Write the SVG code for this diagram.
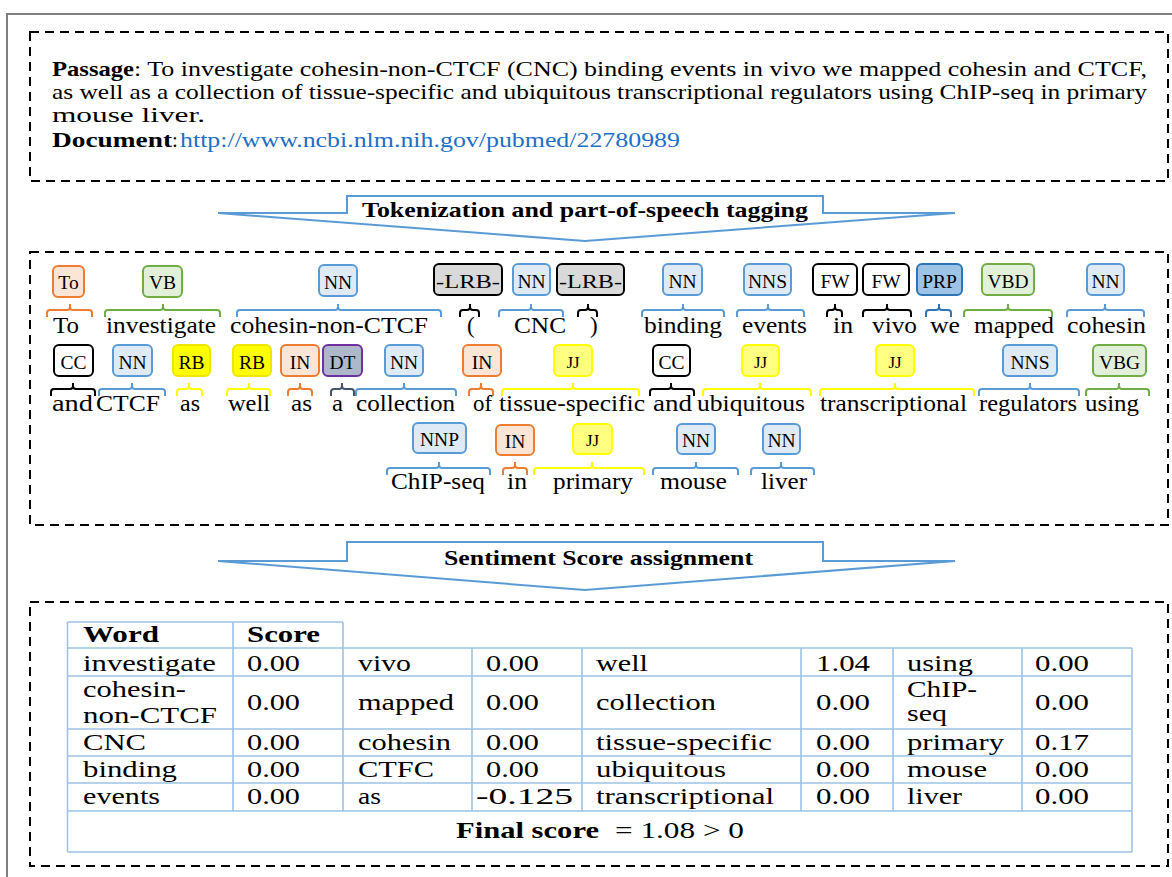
<svg xmlns="http://www.w3.org/2000/svg" width="1172" height="877" viewBox="0 0 1172 877">
<style>
text{font-family:"Liberation Serif","Times New Roman",serif;fill:#000}
.p{font-size:21px}
.pb{font-size:21px;font-weight:bold}
.url{font-size:21px;fill:#1F6FC5}
.lbl{font-size:21px;font-weight:bold;text-anchor:middle}
.w{font-size:23px}
.t{font-size:19.5px;text-anchor:middle}
.tj{font-size:17px;text-anchor:middle}
.tc{font-size:23px}
.tcb{font-size:23px;font-weight:bold}
.dash{fill:none;stroke:#000;stroke-width:2;stroke-dasharray:9 6}
.arrow{fill:#fff;stroke:#5B9BD5;stroke-width:2}
.tag{stroke-width:2}
.or{fill:#FBE5D6;stroke:#ED7D31}
.gr{fill:#E2F0D9;stroke:#70AD47}
.bl{fill:#DEEBF7;stroke:#5B9BD5}
.lrb{fill:#D9D9D9;stroke:#000}
.wh{fill:#fff;stroke:#000}
.prp{fill:#9DC3E6;stroke:#2E75B6}
.rb{fill:#FFFF00;stroke:#EEE600}
.jj{fill:#FFFF80;stroke:#FFFF00}
.dt{fill:#ADB9CA;stroke:#7030A0}
.br{fill:none;stroke-width:2}
.bor{stroke:#ED7D31}.bgr{stroke:#70AD47}.bbl{stroke:#5B9BD5}.bbk{stroke:#000}.bprp{stroke:#2E75B6}.byl{stroke:#FFFF00}.bdt{stroke:#44546A}
.tbl{stroke:#9DC3E6;stroke-width:1.6;fill:none}
</style>

<rect x="7" y="14" width="1190" height="900" fill="none" stroke="#7f7f7f" stroke-width="2"/>

<g id="passage-box">
<rect class="dash" x="30" y="32" width="1138" height="149"/>
<text class="pb" x="52" y="76" textLength="82" lengthAdjust="spacingAndGlyphs">Passage</text>
<text class="p" x="134" y="76" textLength="1013" lengthAdjust="spacingAndGlyphs">: To investigate cohesin-non-CTCF (CNC) binding events in vivo we mapped cohesin and CTCF,</text>
<text class="p" x="52" y="99" textLength="1095" lengthAdjust="spacingAndGlyphs">as well as a collection of tissue-specific and ubiquitous transcriptional regulators using ChIP-seq in primary</text>
<text class="p" x="52" y="122" textLength="153" lengthAdjust="spacingAndGlyphs">mouse liver.</text>
<text class="pb" x="52" y="147" textLength="120" lengthAdjust="spacingAndGlyphs">Document</text>
<text class="p" x="172" y="147">:</text>
<text class="url" x="180" y="147" textLength="500" lengthAdjust="spacingAndGlyphs">http://www.ncbi.nlm.nih.gov/pubmed/22780989</text>
</g>

<g id="arrow-tokenization">
<path class="arrow" d="M218,213 L347,213 L347,196 L823,196 L823,213 L955,213 L585,241 Z"/>
<text class="lbl" x="585" y="217" textLength="446" lengthAdjust="spacingAndGlyphs">Tokenization and part-of-speech tagging</text>
</g>

<g id="pos-box">
<rect class="dash" x="30" y="252" width="1138" height="273"/>
</g>

<g id="connectors">
<path class="br bor" d="M47,317V313Q47,310 50,310H67Q70,310 70,307V304M70,307Q70,310 73,310H89Q92,310 92,313V317"/>
<path class="br bgr" d="M105,317V313Q105,310 108,310H160Q163,310 163,307V304M163,307Q163,310 166,310H217Q220,310 220,313V317"/>
<path class="br bbl" d="M237,317V313Q237,310 240,310H335Q338,310 338,307V304M338,307Q338,310 341,310H438Q441,310 441,313V317"/>
<path class="br bbk" d="M460,317V313Q460,310 463,310H467Q470,310 470,307V304M470,307Q470,310 473,310H476Q479,310 479,313V317"/>
<path class="br bbl" d="M499,317V313Q499,310 502,310H528Q531,310 531,307V304M531,307Q531,310 534,310H560Q563,310 563,313V317"/>
<path class="br bbk" d="M578,317V313Q578,310 581,310H585Q588,310 588,307V304M588,307Q588,310 591,310H594Q597,310 597,313V317"/>
<path class="br bbl" d="M642,317V313Q642,310 645,310H680Q683,310 683,307V304M683,307Q683,310 686,310H721Q724,310 724,313V317"/>
<path class="br bbl" d="M737,317V313Q737,310 740,310H765Q768,310 768,307V304M768,307Q768,310 771,310H801Q804,310 804,313V317"/>
<path class="br bbk" d="M827,317V313Q827,310 830,310H832Q835,310 835,307V304M835,307Q835,310 838,310H839Q842,310 842,313V317"/>
<path class="br bbk" d="M863,317V313Q863,310 866,310H884Q887,310 887,307V304M887,307Q887,310 890,310H908Q911,310 911,313V317"/>
<path class="br bprp" d="M926,317V313Q926,310 929,310H936Q939,310 939,307V304M939,307Q939,310 942,310H948Q951,310 951,313V317"/>
<path class="br bgr" d="M964,317V313Q964,310 967,310H1005Q1008,310 1008,307V304M1008,307Q1008,310 1011,310H1049Q1052,310 1052,313V317"/>
<path class="br bbl" d="M1067,317V313Q1067,310 1070,310H1102Q1105,310 1105,307V304M1105,307Q1105,310 1108,310H1141Q1144,310 1144,313V317"/>
<path class="br bbk" d="M51,396V392Q51,389 54,389H70Q73,389 73,386V383M73,386Q73,389 76,389H92Q95,389 95,392V396"/>
<path class="br bbl" d="M99,396V392Q99,389 102,389H129Q132,389 132,386V383M132,386Q132,389 135,389H162Q165,389 165,392V396"/>
<path class="br byl" d="M177,396V392Q177,389 180,389H186Q189,389 189,386V383M189,386Q189,389 192,389H199Q202,389 202,392V396"/>
<path class="br byl" d="M227,396V392Q227,389 230,389H246Q249,389 249,386V383M249,386Q249,389 252,389H267Q270,389 270,392V396"/>
<path class="br bor" d="M288,396V392Q288,389 291,389H297Q300,389 300,386V383M300,386Q300,389 303,389H309Q312,389 312,392V396"/>
<path class="br bdt" d="M331,396V392Q331,389 334,389H339Q342,389 342,386V383M342,386Q342,389 345,389H351Q354,389 354,392V396"/>
<path class="br bbl" d="M356,396V392Q356,389 359,389H401Q404,389 404,386V383M404,386Q404,389 407,389H453Q456,389 456,392V396"/>
<path class="br bor" d="M469,396V392Q469,389 472,389H478Q481,389 481,386V383M481,386Q481,389 484,389H490Q493,389 493,392V396"/>
<path class="br byl" d="M502,396V392Q502,389 505,389H570Q573,389 573,386V383M573,386Q573,389 576,389H636Q639,389 639,392V396"/>
<path class="br bbk" d="M650,396V392Q650,389 653,389H668Q671,389 671,386V383M671,386Q671,389 674,389H691Q694,389 694,392V396"/>
<path class="br byl" d="M703,396V392Q703,389 706,389H757Q760,389 760,386V383M760,386Q760,389 763,389H808Q811,389 811,392V396"/>
<path class="br byl" d="M820,396V392Q820,389 823,389H892Q895,389 895,386V383M895,386Q895,389 898,389H971Q974,389 974,392V396"/>
<path class="br bbl" d="M979,396V392Q979,389 982,389H1027Q1030,389 1030,386V383M1030,386Q1030,389 1033,389H1076Q1079,389 1079,392V396"/>
<path class="br bgr" d="M1086,396V392Q1086,389 1089,389H1116Q1119,389 1119,386V383M1119,386Q1119,389 1122,389H1146Q1149,389 1149,392V396"/>
<path class="br bbl" d="M387,475V471Q387,468 390,468H436Q439,468 439,465V462M439,465Q439,468 442,468H487Q490,468 490,471V475"/>
<path class="br bor" d="M503,475V471Q503,468 506,468H512Q515,468 515,465V462M515,465Q515,468 518,468H524Q527,468 527,471V475"/>
<path class="br byl" d="M534,475V471Q534,468 537,468H589Q592,468 592,465V462M592,465Q592,468 595,468H641Q644,468 644,471V475"/>
<path class="br bbl" d="M653,475V471Q653,468 656,468H693Q696,468 696,465V462M696,465Q696,468 699,468H735Q738,468 738,471V475"/>
<path class="br bbl" d="M751,475V471Q751,468 754,468H778Q781,468 781,465V462M781,465Q781,468 784,468H811Q814,468 814,471V475"/>
</g>

<g id="tok-1"><rect class="tag or" x="53" y="266" width="31" height="31" rx="5"/><text class="t" x="68.5" y="289">To</text><text class="w" x="53" y="333" textLength="26" lengthAdjust="spacingAndGlyphs">To</text></g>
<g id="tok-2"><rect class="tag gr" x="143" y="266" width="39" height="31" rx="5"/><text class="t" x="162.5" y="289">VB</text><text class="w" x="106" y="333" textLength="110" lengthAdjust="spacingAndGlyphs">investigate</text></g>
<g id="tok-3"><rect class="tag bl" x="319" y="265" width="38" height="31" rx="5"/><text class="t" x="338" y="289">NN</text><text class="w" x="230" y="333" textLength="198" lengthAdjust="spacingAndGlyphs">cohesin-non-CTCF</text></g>
<g id="tok-4"><rect class="tag lrb" x="434" y="264" width="68" height="31" rx="5"/><text class="t" x="468" y="288" textLength="64" lengthAdjust="spacingAndGlyphs">-LRB-</text><text class="w" x="467" y="333">(</text></g>
<g id="tok-5"><rect class="tag bl" x="513" y="264" width="37" height="31" rx="5"/><text class="t" x="531.5" y="288">NN</text><text class="w" x="514" y="333" textLength="52" lengthAdjust="spacingAndGlyphs">CNC</text></g>
<g id="tok-6"><rect class="tag lrb" x="557" y="264" width="67" height="31" rx="5"/><text class="t" x="590.5" y="288" textLength="63" lengthAdjust="spacingAndGlyphs">-LRB-</text><text class="w" x="590" y="333">)</text></g>
<g id="tok-7"><rect class="tag bl" x="663" y="264" width="39" height="31" rx="5"/><text class="t" x="682.5" y="288">NN</text><text class="w" x="644" y="333" textLength="78" lengthAdjust="spacingAndGlyphs">binding</text></g>
<g id="tok-8"><rect class="tag bl" x="744" y="264" width="47" height="31" rx="5"/><text class="t" x="767.5" y="288">NNS</text><text class="w" x="742" y="333" textLength="65" lengthAdjust="spacingAndGlyphs">events</text></g>
<g id="tok-9"><rect class="tag wh" x="813" y="264" width="44" height="31" rx="5"/><text class="t" x="835" y="288">FW</text><text class="w" x="833" y="333" textLength="20" lengthAdjust="spacingAndGlyphs">in</text></g>
<g id="tok-10"><rect class="tag wh" x="863" y="264" width="46" height="31" rx="5"/><text class="t" x="886" y="288">FW</text><text class="w" x="872" y="333" textLength="45" lengthAdjust="spacingAndGlyphs">vivo</text></g>
<g id="tok-11"><rect class="tag prp" x="917" y="264" width="45" height="31" rx="5"/><text class="t" x="939.5" y="288">PRP</text><text class="w" x="930" y="333" textLength="30" lengthAdjust="spacingAndGlyphs">we</text></g>
<g id="tok-12"><rect class="tag gr" x="982" y="264" width="52" height="31" rx="5"/><text class="t" x="1008" y="288">VBD</text><text class="w" x="974" y="333" textLength="80" lengthAdjust="spacingAndGlyphs">mapped</text></g>
<g id="tok-13"><rect class="tag bl" x="1087" y="264" width="37" height="31" rx="5"/><text class="t" x="1105.5" y="288">NN</text><text class="w" x="1067" y="333" textLength="79" lengthAdjust="spacingAndGlyphs">cohesin</text></g>

<g id="tok-14"><rect class="tag wh" x="54" y="345" width="39" height="31" rx="5"/><text class="t" x="73.5" y="369">CC</text><text class="w" x="52" y="411" textLength="41" lengthAdjust="spacingAndGlyphs">and</text></g>
<g id="tok-15"><rect class="tag bl" x="113" y="345" width="39" height="31" rx="5"/><text class="t" x="132.5" y="369">NN</text><text class="w" x="96" y="411" textLength="64" lengthAdjust="spacingAndGlyphs">CTCF</text></g>
<g id="tok-16"><rect class="tag rb" x="173" y="345" width="37" height="31" rx="5"/><text class="t" x="191.5" y="369">RB</text><text class="w" x="180" y="411" textLength="20" lengthAdjust="spacingAndGlyphs">as</text></g>
<g id="tok-17"><rect class="tag rb" x="233" y="345" width="38" height="31" rx="5"/><text class="t" x="252" y="369">RB</text><text class="w" x="228" y="411" textLength="42" lengthAdjust="spacingAndGlyphs">well</text></g>
<g id="tok-18"><rect class="tag or" x="281" y="345" width="38" height="31" rx="5"/><text class="t" x="300" y="369">IN</text><text class="w" x="291" y="411" textLength="21" lengthAdjust="spacingAndGlyphs">as</text></g>
<g id="tok-19"><rect class="tag dt" x="323" y="345" width="39" height="31" rx="5"/><text class="t" x="342.5" y="369">DT</text><text class="w" x="332" y="411" textLength="11" lengthAdjust="spacingAndGlyphs">a</text></g>
<g id="tok-20"><rect class="tag bl" x="385" y="345" width="38" height="31" rx="5"/><text class="t" x="404" y="369">NN</text><text class="w" x="356" y="411" textLength="99" lengthAdjust="spacingAndGlyphs">collection</text></g>
<g id="tok-21"><rect class="tag or" x="463" y="345" width="38" height="31" rx="5"/><text class="t" x="482" y="369">IN</text><text class="w" x="473" y="411" textLength="19" lengthAdjust="spacingAndGlyphs">of</text></g>
<g id="tok-22"><rect class="tag jj" x="554" y="345" width="38" height="31" rx="5"/><text class="tj" x="573" y="368">JJ</text><text class="w" x="499" y="411" textLength="146" lengthAdjust="spacingAndGlyphs">tissue-specific</text></g>
<g id="tok-23"><rect class="tag wh" x="653" y="345" width="37" height="31" rx="5"/><text class="t" x="671.5" y="369">CC</text><text class="w" x="653" y="411" textLength="39" lengthAdjust="spacingAndGlyphs">and</text></g>
<g id="tok-24"><rect class="tag jj" x="742" y="345" width="37" height="31" rx="5"/><text class="tj" x="760.5" y="368">JJ</text><text class="w" x="697" y="411" textLength="108" lengthAdjust="spacingAndGlyphs">ubiquitous</text></g>
<g id="tok-25"><rect class="tag jj" x="876" y="345" width="38" height="31" rx="5"/><text class="tj" x="895" y="368">JJ</text><text class="w" x="820" y="411" textLength="147" lengthAdjust="spacingAndGlyphs">transcriptional</text></g>
<g id="tok-26"><rect class="tag bl" x="1003" y="345" width="54" height="31" rx="5"/><text class="t" x="1030" y="369">NNS</text><text class="w" x="979" y="411" textLength="98" lengthAdjust="spacingAndGlyphs">regulators</text></g>
<g id="tok-27"><rect class="tag gr" x="1093" y="345" width="53" height="31" rx="5"/><text class="t" x="1119.5" y="369">VBG</text><text class="w" x="1085" y="411" textLength="54" lengthAdjust="spacingAndGlyphs">using</text></g>

<g id="tok-28"><rect class="tag bl" x="413" y="423" width="53" height="30" rx="5"/><text class="t" x="439.5" y="446">NNP</text><text class="w" x="391" y="489" textLength="94" lengthAdjust="spacingAndGlyphs">ChIP-seq</text></g>
<g id="tok-29"><rect class="tag or" x="496" y="425" width="38" height="30" rx="5"/><text class="t" x="515" y="448">IN</text><text class="w" x="507" y="489" textLength="20" lengthAdjust="spacingAndGlyphs">in</text></g>
<g id="tok-30"><rect class="tag jj" x="573" y="424" width="39" height="30" rx="5"/><text class="tj" x="592.5" y="446">JJ</text><text class="w" x="553" y="489" textLength="80" lengthAdjust="spacingAndGlyphs">primary</text></g>
<g id="tok-31"><rect class="tag bl" x="677" y="424" width="38" height="30" rx="5"/><text class="t" x="696" y="447">NN</text><text class="w" x="660" y="489" textLength="67" lengthAdjust="spacingAndGlyphs">mouse</text></g>
<g id="tok-32"><rect class="tag bl" x="763" y="424" width="37" height="30" rx="5"/><text class="t" x="781.5" y="447">NN</text><text class="w" x="761" y="489" textLength="46" lengthAdjust="spacingAndGlyphs">liver</text></g>

<g id="arrow-sentiment">
<path class="arrow" d="M218,561 L347,561 L347,542 L823,542 L823,561 L955,561 L585,590 Z"/>
<text class="lbl" x="598.5" y="565" textLength="309" lengthAdjust="spacingAndGlyphs">Sentiment Score assignment</text>
</g>

<g id="score-box">
<rect class="dash" x="30" y="602" width="1138" height="264"/>
</g>

<g id="score-table">
<path class="tbl" d="M67.5,622H343M67.5,648H1132M67.5,676H1132M67.5,729H1132M67.5,756H1132M67.5,783H1132M67.5,811H1132M67.5,852H1132
M67.5,622V852M233,622V811M343,622V811M472,648V811M582,648V811M801,648V811M893,648V811M1022,648V811M1132,648V852"/>
<text class="tcb" x="83" y="642" textLength="76" lengthAdjust="spacingAndGlyphs">Word</text>
<text class="tcb" x="247" y="642" textLength="73" lengthAdjust="spacingAndGlyphs">Score</text>

<text class="tc" x="83" y="671" textLength="133" lengthAdjust="spacingAndGlyphs">investigate</text>
<text class="tc" x="247" y="671" textLength="53" lengthAdjust="spacingAndGlyphs">0.00</text>
<text class="tc" x="358" y="671" textLength="53" lengthAdjust="spacingAndGlyphs">vivo</text>
<text class="tc" x="486" y="671" textLength="53" lengthAdjust="spacingAndGlyphs">0.00</text>
<text class="tc" x="596" y="671" textLength="52" lengthAdjust="spacingAndGlyphs">well</text>
<text class="tc" x="816" y="671" textLength="54" lengthAdjust="spacingAndGlyphs">1.04</text>
<text class="tc" x="907" y="671" textLength="66" lengthAdjust="spacingAndGlyphs">using</text>
<text class="tc" x="1035" y="671" textLength="54" lengthAdjust="spacingAndGlyphs">0.00</text>

<text class="tc" x="83" y="697" textLength="103" lengthAdjust="spacingAndGlyphs">cohesin-</text>
<text class="tc" x="83" y="723" textLength="134" lengthAdjust="spacingAndGlyphs">non-CTCF</text>
<text class="tc" x="247" y="710" textLength="53" lengthAdjust="spacingAndGlyphs">0.00</text>
<text class="tc" x="358" y="710" textLength="96" lengthAdjust="spacingAndGlyphs">mapped</text>
<text class="tc" x="486" y="710" textLength="53" lengthAdjust="spacingAndGlyphs">0.00</text>
<text class="tc" x="596" y="710" textLength="120" lengthAdjust="spacingAndGlyphs">collection</text>
<text class="tc" x="816" y="710" textLength="54" lengthAdjust="spacingAndGlyphs">0.00</text>
<text class="tc" x="907" y="697" textLength="70" lengthAdjust="spacingAndGlyphs">ChIP-</text>
<text class="tc" x="907" y="721" textLength="40" lengthAdjust="spacingAndGlyphs">seq</text>
<text class="tc" x="1035" y="710" textLength="54" lengthAdjust="spacingAndGlyphs">0.00</text>

<text class="tc" x="83" y="750" textLength="63" lengthAdjust="spacingAndGlyphs">CNC</text>
<text class="tc" x="247" y="750" textLength="53" lengthAdjust="spacingAndGlyphs">0.00</text>
<text class="tc" x="358" y="750" textLength="93" lengthAdjust="spacingAndGlyphs">cohesin</text>
<text class="tc" x="486" y="750" textLength="53" lengthAdjust="spacingAndGlyphs">0.00</text>
<text class="tc" x="596" y="750" textLength="176" lengthAdjust="spacingAndGlyphs">tissue-specific</text>
<text class="tc" x="816" y="750" textLength="54" lengthAdjust="spacingAndGlyphs">0.00</text>
<text class="tc" x="907" y="750" textLength="97" lengthAdjust="spacingAndGlyphs">primary</text>
<text class="tc" x="1035" y="750" textLength="54" lengthAdjust="spacingAndGlyphs">0.17</text>

<text class="tc" x="83" y="777" textLength="94" lengthAdjust="spacingAndGlyphs">binding</text>
<text class="tc" x="247" y="777" textLength="53" lengthAdjust="spacingAndGlyphs">0.00</text>
<text class="tc" x="358" y="777" textLength="76" lengthAdjust="spacingAndGlyphs">CTFC</text>
<text class="tc" x="486" y="777" textLength="53" lengthAdjust="spacingAndGlyphs">0.00</text>
<text class="tc" x="596" y="777" textLength="130" lengthAdjust="spacingAndGlyphs">ubiquitous</text>
<text class="tc" x="816" y="777" textLength="54" lengthAdjust="spacingAndGlyphs">0.00</text>
<text class="tc" x="907" y="777" textLength="80" lengthAdjust="spacingAndGlyphs">mouse</text>
<text class="tc" x="1035" y="777" textLength="54" lengthAdjust="spacingAndGlyphs">0.00</text>

<text class="tc" x="83" y="804" textLength="77" lengthAdjust="spacingAndGlyphs">events</text>
<text class="tc" x="247" y="804" textLength="53" lengthAdjust="spacingAndGlyphs">0.00</text>
<text class="tc" x="358" y="804" textLength="23" lengthAdjust="spacingAndGlyphs">as</text>
<text class="tc" x="476" y="804" textLength="97" lengthAdjust="spacingAndGlyphs">-0.125</text>
<text class="tc" x="596" y="804" textLength="178" lengthAdjust="spacingAndGlyphs">transcriptional</text>
<text class="tc" x="816" y="804" textLength="54" lengthAdjust="spacingAndGlyphs">0.00</text>
<text class="tc" x="907" y="804" textLength="55" lengthAdjust="spacingAndGlyphs">liver</text>
<text class="tc" x="1035" y="804" textLength="54" lengthAdjust="spacingAndGlyphs">0.00</text>

<text class="tcb" x="456" y="838" textLength="143" lengthAdjust="spacingAndGlyphs">Final score</text>
<text class="tc" x="615" y="838" textLength="129" lengthAdjust="spacingAndGlyphs">= 1.08 &gt; 0</text>
</g>
</svg>
